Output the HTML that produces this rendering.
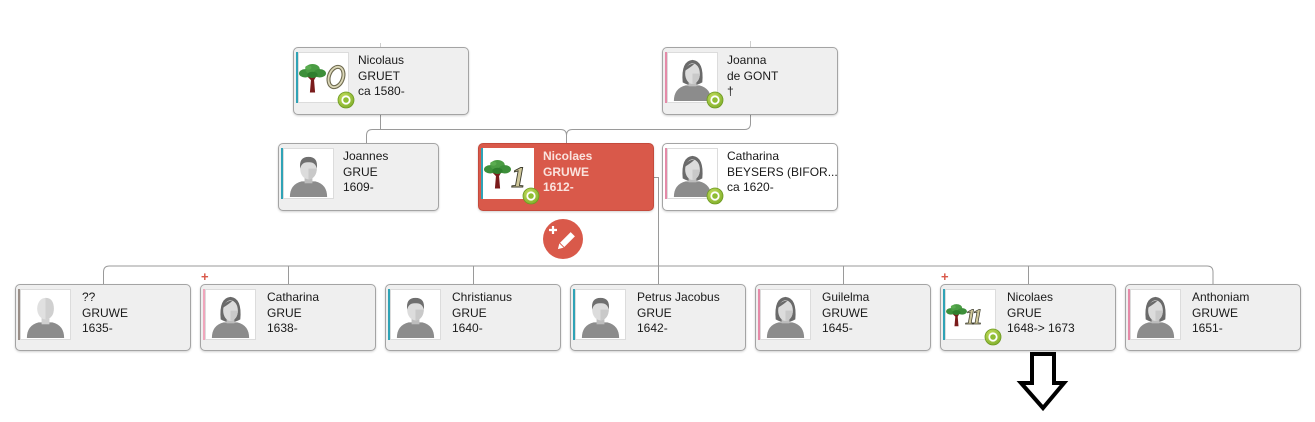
<!DOCTYPE html>
<html><head><meta charset="utf-8">
<style>
*{margin:0;padding:0;box-sizing:border-box}
html,body{width:1315px;height:422px;background:#fff;overflow:hidden;position:relative;font-family:"Liberation Sans",Arial,sans-serif}
.card{position:absolute;border:1px solid #a4a4a4;border-radius:5px;background:#efefef;box-shadow:0 1px 2px rgba(0,0,0,.18);height:68px;width:176px}
.card.w{background:#fff}
.card.sel{background:#d9594a;border-color:#c44a3c}
.bar{position:absolute;left:2px;top:4px;width:2px;height:51px}
.m{background:#2fa3b6}.f{background:#e58aa8}.u{background:#9a8f88}
.ph{position:absolute;left:4px;top:4px;width:51px;height:51px;background:#fff;border:1px solid #dcdcdc}
.ph svg{display:block}
.t{position:absolute;left:64px;top:5px;font-size:12px;line-height:15.7px;color:#1a1a1a;white-space:nowrap}
.sel .t{color:#fae3de;font-weight:bold}
.bd{position:absolute;left:43px;top:43px;width:18px;height:18px}
.plus{position:absolute;color:#d9594a;font-size:13px;font-weight:bold;line-height:10px}
</style></head><body>
<svg width="0" height="0" style="position:absolute">
<defs>
<radialGradient id="bg1" cx="0.4" cy="0.35" r="0.7"><stop offset="0" stop-color="#c8e060"/><stop offset="1" stop-color="#7fae2a"/></radialGradient>
<symbol id="male" viewBox="0 0 50 50">
<path d="M6,49 Q6,36 18,33 L32,33 Q44,36 44,49 Z" fill="#8c8c8c"/>
<rect x="21" y="27" width="8" height="8" fill="#bdbdbd"/>
<ellipse cx="25" cy="20" rx="8.5" ry="11" fill="#dcdcdc"/>
<path d="M25,20 L25,31 Q33,30 33.5,20 Z" fill="#c9c9c9"/>
<path d="M16.5,20 Q15,8 25,8 Q35,8 33.5,20 Q32,13 25,13.5 Q18,13 16.5,20Z" fill="#6f6f6f"/>
</symbol>
<symbol id="female" viewBox="0 0 50 50">
<path d="M6,49 Q6,36 18,33 L32,33 Q44,36 44,49 Z" fill="#8c8c8c"/>
<path d="M15,30 Q13,8 25,7 Q37,8 35,30 Q30,33 25,33 Q20,33 15,30Z" fill="#6a6a6a"/>
<rect x="21" y="27" width="8" height="7" fill="#bdbdbd"/>
<ellipse cx="25" cy="21" rx="7.5" ry="10.5" fill="#dcdcdc"/>
<path d="M25,21 L25,31.5 Q32.5,30 32.5,21 Z" fill="#c9c9c9"/>
<path d="M17.5,18 Q19,11 27,11 Q24,14 17.5,18Z" fill="#6a6a6a"/>
</symbol>
<symbol id="unk" viewBox="0 0 50 50">
<path d="M6,49 Q6,36 18,33 L32,33 Q44,36 44,49 Z" fill="#8c8c8c"/>
<rect x="21" y="27" width="8" height="8" fill="#cfcfcf"/>
<ellipse cx="25" cy="19" rx="8.5" ry="11" fill="#e0e0e0"/>
<path d="M25,8 L25,30 Q33.5,29 33.5,19 Q33.5,8 25,8Z" fill="#d0d0d0"/>
</symbol>
<symbol id="tree" viewBox="0 0 26 30">
<path d="M10.5,29 L11.5,17 L7,12.5 L9.5,12 L12.5,15 L16,10.5 L18,11 L14.5,17 L15.5,29 Z" fill="#7a1b1b"/>
<ellipse cx="6" cy="10.5" rx="6" ry="4" fill="#3d8f3a"/>
<ellipse cx="13" cy="6.5" rx="7" ry="5" fill="#4a9c43"/>
<ellipse cx="20" cy="10.5" rx="6" ry="4" fill="#3d8f3a"/>
<ellipse cx="13" cy="12" rx="5" ry="3" fill="#2f7f2e"/>
<ellipse cx="9" cy="5" rx="3" ry="2" fill="#5aac50"/>
</symbol>
<symbol id="badge" viewBox="0 0 18 18">
<circle cx="9" cy="9" r="8" fill="url(#bg1)" stroke="#6e9a22" stroke-width="0.8"/>
<circle cx="9" cy="9" r="4.6" fill="#fff"/>
<circle cx="9" cy="9" r="2.8" fill="#8fbd34"/>
</symbol>
</defs>
</svg>

<!-- connectors -->
<svg width="1315" height="422" style="position:absolute;left:0;top:0" fill="none">
<g stroke="#9a9a9a" stroke-width="1">
<path d="M380.5,43 V47 M750.5,41 V47" stroke="#cfcfcf"/>
<path d="M380.5,115 V129.5"/>
<path d="M366.5,144 V135.5 Q366.5,129.5 372.5,129.5 H560.5 Q566.5,129.5 566.5,135.5 V143"/>
<path d="M566.5,135.5 Q566.5,129.5 572.5,129.5 H744.5 Q750.5,129.5 750.5,123.5 V114"/>
<path d="M653,177.5 H658.5 V266"/>
<path d="M103.5,284 V272 Q103.5,266 109.5,266 H1207 Q1213,266 1213,272 V284"/>
<path d="M288.5,266 V284 M473.5,266 V284 M658.5,266 V284 M843.5,266 V284 M1028.5,266 V284"/>
</g>
<!-- edit button -->
<circle cx="563" cy="239" r="20" fill="#d9594a"/>
<g transform="translate(565,242) rotate(45)" fill="#fff">
<rect x="-3" y="-11" width="6" height="15"/>
<polygon points="-3,5 3,5 0,10"/>
</g>
<path d="M553,226 V234 M549,230 H557" stroke="#fff" stroke-width="2.2"/>
<!-- big arrow -->
<path d="M1032,354 H1054 V383 H1064 L1043,408 L1021,383 H1032 Z" fill="#fff" stroke="#000" stroke-width="4" stroke-linejoin="miter"/>
</svg>

<!-- top row -->
<div class="card" style="left:293px;top:47px">
<div class="bar m"></div>
<div class="ph"><svg width="49" height="49" viewBox="0 0 49 49"><use href="#tree" x="0" y="9" width="27" height="32"/><ellipse cx="37" cy="24" rx="7" ry="10.5" transform="rotate(20 37 24)" fill="none" stroke="#6e6a50" stroke-width="4"/><ellipse cx="37" cy="24" rx="7" ry="10.5" transform="rotate(20 37 24)" fill="none" stroke="#dcd8b8" stroke-width="1.8"/></svg></div>
<div class="t">Nicolaus<br>GRUET<br>ca 1580-</div>
<svg class="bd"><use href="#badge"/></svg>
</div>

<div class="card" style="left:662px;top:47px">
<div class="bar f"></div>
<div class="ph"><svg width="49" height="49"><use href="#female" width="49" height="49"/></svg></div>
<div class="t">Joanna<br>de GONT<br>†</div>
<svg class="bd"><use href="#badge"/></svg>
</div>

<!-- middle row -->
<div class="card" style="left:278px;top:143px;width:161px">
<div class="bar m"></div>
<div class="ph"><svg width="49" height="49"><use href="#male" width="49" height="49"/></svg></div>
<div class="t">Joannes<br>GRUE<br>1609-</div>
</div>

<div class="card sel" style="left:478px;top:143px;width:176px">
<div class="bar m"></div>
<div class="ph" style="border-color:#fff"><svg width="49" height="49"><use href="#tree" x="0" y="9" width="27" height="32"/><text x="27" y="38" font-family="Liberation Serif,serif" font-style="italic" font-weight="bold" font-size="30" fill="#cfc79a" stroke="#3a3a2a" stroke-width="0.9">1</text></svg></div>
<div class="t">Nicolaes<br>GRUWE<br>1612-</div>
<svg class="bd"><use href="#badge"/></svg>
</div>

<div class="card w" style="left:662px;top:143px">
<div class="bar f"></div>
<div class="ph"><svg width="49" height="49"><use href="#female" width="49" height="49"/></svg></div>
<div class="t">Catharina<br>BEYSERS (BIFOR...<br>ca 1620-</div>
<svg class="bd"><use href="#badge"/></svg>
</div>

<!-- children -->
<div class="card" style="left:15px;top:284px;height:67px">
<div class="bar u"></div>
<div class="ph"><svg width="49" height="49"><use href="#unk" width="49" height="49"/></svg></div>
<div class="t" style="left:66px;top:5px">??<br>GRUWE<br>1635-</div>
</div>

<div class="plus" style="left:201px;top:272px">+</div>
<div class="card" style="left:200px;top:284px;height:67px">
<div class="bar f" style="background:#f0a6bc"></div>
<div class="ph"><svg width="49" height="49"><use href="#female" width="49" height="49"/></svg></div>
<div class="t" style="left:66px;top:5px">Catharina<br>GRUE<br>1638-</div>
</div>

<div class="card" style="left:385px;top:284px;height:67px">
<div class="bar m"></div>
<div class="ph"><svg width="49" height="49"><use href="#male" width="49" height="49"/></svg></div>
<div class="t" style="left:66px;top:5px">Christianus<br>GRUE<br>1640-</div>
</div>

<div class="card" style="left:570px;top:284px;height:67px">
<div class="bar m"></div>
<div class="ph"><svg width="49" height="49"><use href="#male" width="49" height="49"/></svg></div>
<div class="t" style="left:66px;top:5px">Petrus Jacobus<br>GRUE<br>1642-</div>
</div>

<div class="card" style="left:755px;top:284px;height:67px">
<div class="bar f"></div>
<div class="ph"><svg width="49" height="49"><use href="#female" width="49" height="49"/></svg></div>
<div class="t" style="left:66px;top:5px">Guilelma<br>GRUWE<br>1645-</div>
</div>

<div class="plus" style="left:941px;top:272px">+</div>
<div class="card" style="left:940px;top:284px;height:67px">
<div class="bar m"></div>
<div class="ph"><svg width="49" height="49"><use href="#tree" x="0" y="12" width="21" height="26"/><text x="19" y="34" font-family="Liberation Serif,serif" font-style="italic" font-weight="bold" font-size="22" fill="#cfc79a" stroke="#3a3a2a" stroke-width="0.7" letter-spacing="-3">11</text></svg></div>
<div class="t" style="left:66px;top:5px">Nicolaes<br>GRUE<br>1648-&gt; 1673</div>
<svg class="bd"><use href="#badge"/></svg>
</div>

<div class="card" style="left:1125px;top:284px;height:67px">
<div class="bar f"></div>
<div class="ph"><svg width="49" height="49"><use href="#female" width="49" height="49"/></svg></div>
<div class="t" style="left:66px;top:5px">Anthoniam<br>GRUWE<br>1651-</div>
</div>

</body></html>
